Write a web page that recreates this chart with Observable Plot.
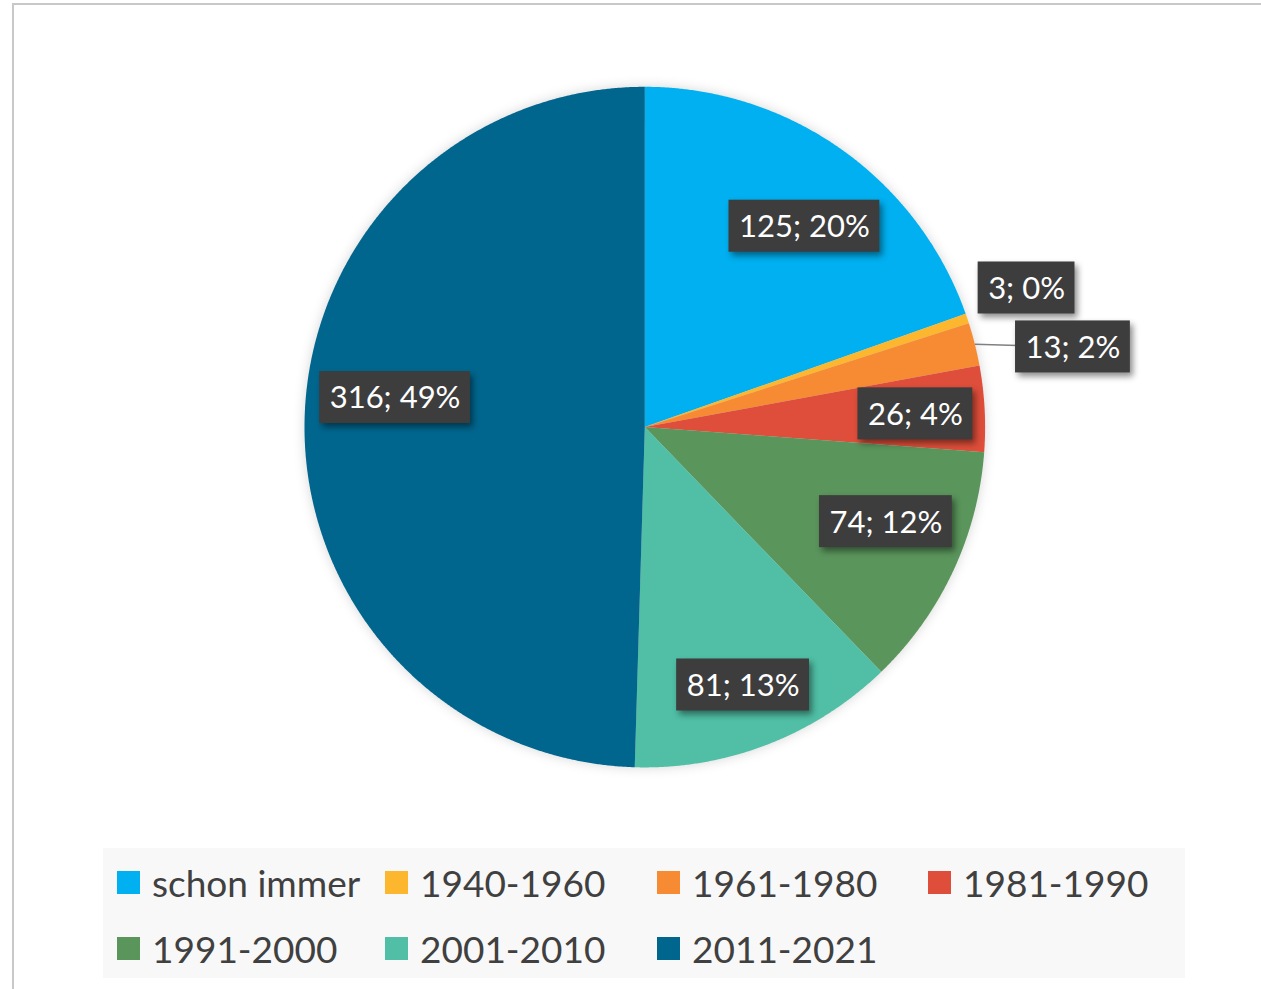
<!DOCTYPE html>
<html>
<head>
<meta charset="utf-8">
<script src="https://cdn.jsdelivr.net/npm/d3@7"></script>
<script src="https://cdn.jsdelivr.net/npm/@observablehq/plot@0.6"></script>
<style>
  body { margin: 0; background: #ffffff; }
  #wrap { position: relative; width: 1261px; height: 989px; overflow: hidden; font-family: Lato, "Open Sans", sans-serif; background: #fff; }
  .bt { position: absolute; left: 12px; top: 3px; right: 0; height: 2px; background: #c8c8c8; }
  .bl { position: absolute; left: 12px; top: 3px; bottom: 0; width: 2px; background: #c8c8c8; }
  #chart { position: absolute; left: 0; top: 0; }
  #legend { position: absolute; left: 103px; top: 848px; width: 1082px; height: 130px; background: #f8f8f8;
            box-sizing: border-box; padding-left: 14px; padding-top: 1px;
            display: grid; grid-template-columns: 268px 272px 271px auto; grid-auto-rows: 66px; }
  .item { display: flex; align-items: center; color: #404040; font-size: 37px; white-space: nowrap; }
  .sw { width: 23px; height: 23px; margin-right: 12px; flex: none; }
  g[aria-label="line"] { filter: drop-shadow(0px 0px 6px rgba(0,0,0,0.16)); }
  g[aria-label="rect"] rect { filter: drop-shadow(3px 4px 3px rgba(0,0,0,0.45)); }
</style>
</head>
<body>
<div id="wrap">
  <div class="bt"></div>
  <div class="bl"></div>
  <div id="chart"></div>
  <div id="legend"></div>
</div>
<script>
// ---- data ----
const categories = ["schon immer", "1940-1960", "1961-1980", "1981-1990", "1991-2000", "2001-2010", "2011-2021"];
const counts = [125, 3, 13, 26, 74, 81, 316];
const percentLabels = ["20%", "0%", "2%", "4%", "12%", "13%", "49%"];

// ---- styles / layout ----
const colors = ["#00b0f0", "#fdb72f", "#f68b33", "#de4e3a", "#5a955c", "#50bfa5", "#00668e"];
const cx = 644.3, cy = 426.6, R = 340.3;
const W = 1261, H = 840;
// label placement: radius (in pie radii) and angular nudge (deg) from slice mid-angle
const placement = {
  "schon immer": {r: 0.754, da: 3.2},
  "1940-1960":   {r: 1.194, da: -1.4},
  "1961-1980":   {r: 1.28,  da: 3.5, leader: true},
  "1981-1990":   {r: 0.796, da: 0.3},
  "1991-2000":   {r: 0.761, da: -3.7},
  "2001-2010":   {r: 0.811, da: 0.3},
  "2011-2021":   {r: 0.739, da: 5.9}
};
const labelFont = 31;

const data = categories.map((c, i) => ({category: c, count: counts[i], label: `${counts[i]}; ${percentLabels[i]}`}));
const arcs = d3.pie().sort(null).value(d => d.count)(data);

// wedge polygons
const wedgePts = [];
for (const a of arcs) {
  const c = a.data.category;
  wedgePts.push({category: c, x: 0, y: 0});
  const n = Math.max(2, Math.ceil((a.endAngle - a.startAngle) / (Math.PI / 720)));
  for (let k = 0; k <= n; k++) {
    const t = a.startAngle + (a.endAngle - a.startAngle) * k / n;
    wedgePts.push({category: c, x: Math.sin(t), y: Math.cos(t)});
  }
}

// text measurement
const ctx = document.createElement("canvas").getContext("2d");
ctx.font = `${labelFont}px Lato`;
const labels = arcs.map(a => {
  const c = a.data.category;
  const p = placement[c];
  const mid = (a.startAngle + a.endAngle) / 2;
  const t = mid + p.da * Math.PI / 180;
  const x = p.r * Math.sin(t), y = p.r * Math.cos(t);
  const tw = ctx.measureText(a.data.label).width;
  const hw = (tw / 2 + 10) / R, hh = 26 / R;
  return {category: c, label: a.data.label, x, y, x1: x - hw, x2: x + hw, y1: y - hh, y2: y + hh,
          ex: Math.sin(mid), ey: Math.cos(mid), leader: !!p.leader};
});

const plot = Plot.plot({
  width: W, height: H,
  margin: 0,
  x: {domain: [-1, 1], range: [cx - R, cx + R], axis: null},
  y: {domain: [-1, 1], range: [cy + R, cy - R], axis: null},
  color: {domain: categories, range: colors},
  style: {background: "transparent", fontFamily: "Lato, sans-serif", overflow: "visible"},
  marks: [
    Plot.line(wedgePts, {x: "x", y: "y", z: "category", fill: "category", stroke: "none", curve: "linear-closed"}),
    Plot.link(labels.filter(d => d.leader), {x1: "ex", y1: "ey", x2: "x", y2: "y", stroke: "#808080", strokeWidth: 1.5}),
    Plot.rect(labels, {x1: "x1", x2: "x2", y1: "y1", y2: "y2", fill: "#3d3d3d"}),
    Plot.text(labels, {x: "x", y: "y", text: "label", fill: "white", fontSize: labelFont, fontFamily: "Lato, sans-serif", dy: 1})
  ]
});
document.getElementById("chart").appendChild(plot);

// legend
const leg = document.getElementById("legend");
categories.forEach((c, i) => {
  const it = document.createElement("div");
  it.className = "item";
  it.innerHTML = `<span class="sw" style="background:${colors[i]}"></span><span>${c}</span>`;
  leg.appendChild(it);
});
</script>
</body>
</html>
